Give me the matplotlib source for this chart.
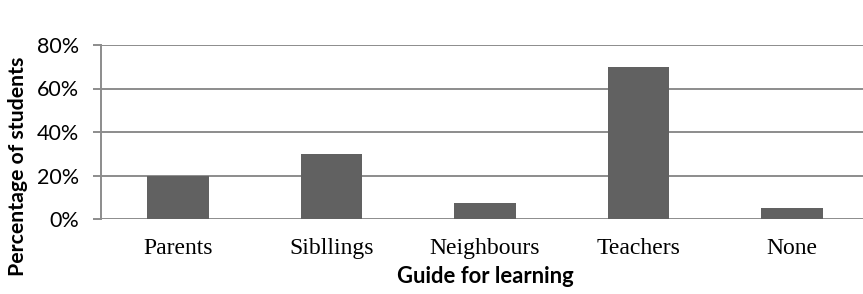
import matplotlib.pyplot as plt
from matplotlib.ticker import FuncFormatter

categories = ['Parents', 'Sibllings', 'Neighbours', 'Teachers', 'None']
percent = [20, 30, 7.5, 70, 5]
yticks = [0, 20, 40, 60, 80]

grid_c = '#8c8c8c'
bar_c = '#616161'
W, H = 863, 294

fig = plt.figure(figsize=(W / 100, H / 100), dpi=100)
ax = fig.add_axes([101 / W, (H - 219) / H, (W - 101) / W, 174 / H])

x = range(len(categories))
ax.bar(x, percent, width=0.40, color=bar_c, zorder=3)

ax.set_ylim(0, 80)
ax.set_xlim(-0.5, 4.5 - 6 / 153.6)
ax.set_yticks(yticks)
ax.yaxis.set_major_formatter(FuncFormatter(lambda v, p: f'{v:.0f}%'))
ax.grid(axis='y', color=grid_c, linewidth=1.4, zorder=0)
ax.set_axisbelow(True)

for s in ['top', 'right', 'bottom']:
    ax.spines[s].set_visible(False)
ax.spines['left'].set_color(grid_c)
ax.spines['left'].set_linewidth(1.4)
ax.tick_params(axis='y', color=grid_c, length=6, width=1.4, pad=10)
ax.tick_params(axis='x', length=0, pad=14)

ax.set_xticks(list(x))
ax.set_xticklabels(categories, family='Liberation Serif', fontsize=17)
for lab in ax.get_yticklabels():
    lab.set_family('Lato')
    lab.set_fontsize(15.5)

fig.text(18 / W, (H - 166) / H, 'Percentage of students', family='Lato',
         fontweight='bold', fontsize=15.3, rotation=90, ha='center', va='center')
fig.text(485.5 / W, (H - 283) / H, 'Guide for learning', family='Lato',
         fontweight='bold', fontsize=15.8, ha='center', va='baseline')

fig.savefig('out.png', dpi=100)
